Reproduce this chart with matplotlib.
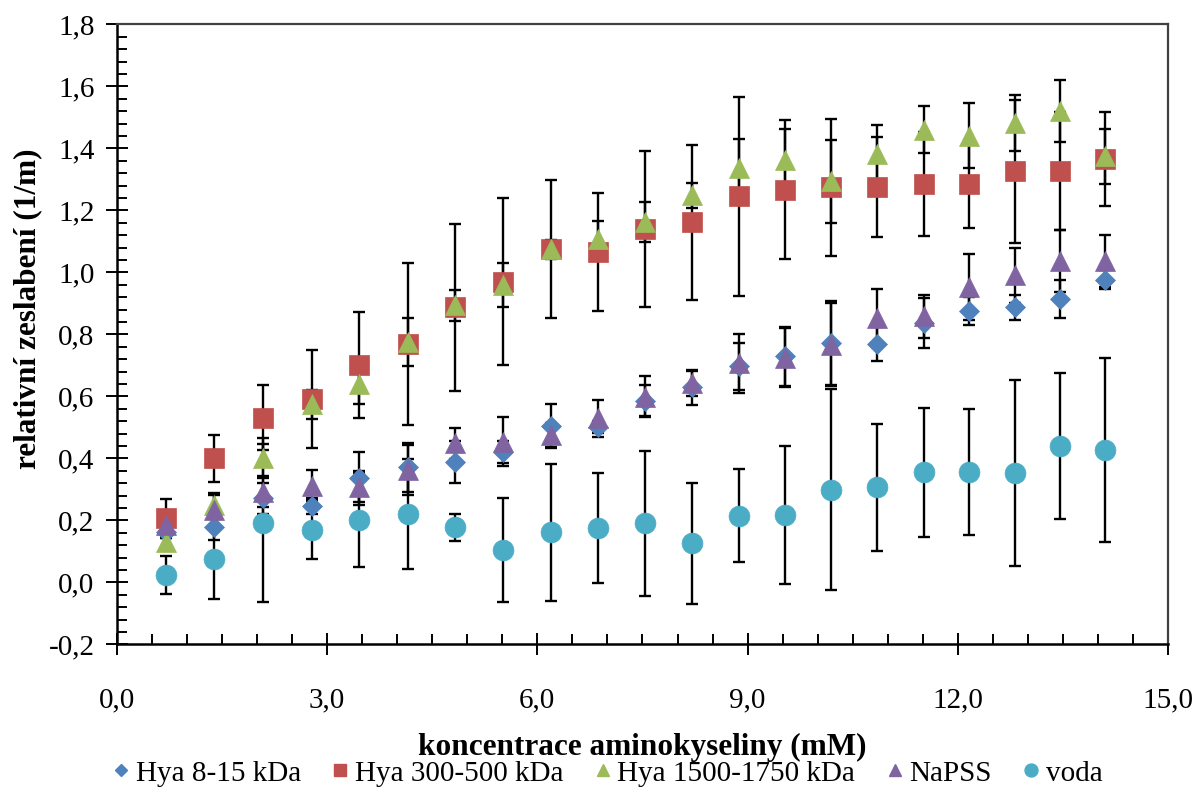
import matplotlib
matplotlib.use("Agg")
import matplotlib.pyplot as plt
from matplotlib.ticker import MultipleLocator, FuncFormatter
from matplotlib.lines import Line2D

# concentration (mM)
x = [0.70, 1.39, 2.08, 2.78, 3.46, 4.15, 4.83, 5.51, 6.19, 6.87, 7.54,
     8.20, 8.87, 9.53, 10.19, 10.85, 11.51, 12.16, 12.81, 13.46, 14.10]

hya_8_15 = [0.163, 0.177, 0.271, 0.246, 0.335, 0.371, 0.387, 0.421, 0.504, 0.502, 0.586,
            0.629, 0.697, 0.729, 0.772, 0.770, 0.836, 0.874, 0.887, 0.914, 0.976]
hya_8_15_err = [0.02, 0.04, 0.05, 0.025, 0.086, 0.08, 0.068, 0.035, 0.07, 0.02, 0.05,
                0.056, 0.076, 0.095, 0.135, 0.055, 0.08, 0.045, 0.04, 0.06, 0.03]

hya_300_500 = [0.206, 0.400, 0.531, 0.590, 0.701, 0.768, 0.887, 0.970, 1.075, 1.065, 1.140,
               1.161, 1.245, 1.267, 1.274, 1.274, 1.285, 1.285, 1.326, 1.326, 1.366]
hya_300_500_err = [0.064, 0.076, 0.104, 0.158, 0.17, 0.262, 0.27, 0.27, 0.223, 0.19, 0.253,
                   0.25, 0.32, 0.225, 0.22, 0.161, 0.167, 0.142, 0.23, 0.19, 0.152]

hya_1500_1750 = [0.131, 0.249, 0.400, 0.575, 0.640, 0.776, 0.894, 0.959, 1.074, 1.106, 1.163,
                 1.249, 1.336, 1.363, 1.293, 1.382, 1.460, 1.441, 1.482, 1.519, 1.374]
hya_1500_1750_err = [0.02, 0.04, 0.064, 0.047, 0.065, 0.077, 0.05, 0.07, 0.03, 0.06, 0.065,
                     0.04, 0.094, 0.10, 0.135, 0.094, 0.075, 0.105, 0.09, 0.10, 0.088]

napss = [0.185, 0.233, 0.292, 0.311, 0.308, 0.362, 0.448, 0.454, 0.475, 0.529, 0.599,
         0.642, 0.707, 0.724, 0.767, 0.853, 0.858, 0.952, 0.990, 1.037, 1.037]
napss_err = [0.02, 0.05, 0.05, 0.05, 0.05, 0.08, 0.05, 0.08, 0.04, 0.06, 0.065,
             0.04, 0.095, 0.095, 0.135, 0.093, 0.07, 0.107, 0.09, 0.10, 0.085]

voda = [0.024, 0.074, 0.190, 0.169, 0.201, 0.220, 0.177, 0.104, 0.161, 0.176, 0.190,
        0.126, 0.215, 0.218, 0.299, 0.307, 0.355, 0.355, 0.353, 0.439, 0.428]
voda_err = [0.062, 0.129, 0.255, 0.095, 0.153, 0.178, 0.045, 0.168, 0.22, 0.178, 0.234,
            0.195, 0.149, 0.222, 0.324, 0.205, 0.208, 0.203, 0.30, 0.235, 0.297]

labels = ["Hya 8-15 kDa", "Hya 300-500 kDa", "Hya 1500-1750 kDa", "NaPSS", "voda"]
series = [(hya_8_15, hya_8_15_err), (hya_300_500, hya_300_500_err),
          (hya_1500_1750, hya_1500_1750_err), (napss, napss_err), (voda, voda_err)]
colors = ["#4F81BD", "#C0504D", "#9BBB59", "#8064A2", "#4BACC6"]
markers = ["D", "s", "^", "^", "o"]
msizes = [10.5, 14.4, 15.0, 15.0, 15.0]

plt.rcParams['font.family'] = ['Liberation Serif', 'DejaVu Serif']

fig = plt.figure(figsize=(11.98, 7.90), dpi=100)
ax = fig.add_axes([0.0974, 0.1844, 0.9752 - 0.0974, 0.9692 - 0.1844])

for (vals, errs) in series:
    ax.errorbar(x, vals, yerr=errs, fmt='none', ecolor='black',
                elinewidth=1.7, capsize=4.5, capthick=1.7, zorder=2)

for (vals, errs), c, m, ms in zip(series, colors, markers, msizes):
    ax.plot(x, vals, linestyle='none', marker=m, ms=ms, color=c,
            mec=c, mew=0.5, zorder=3)

ax.set_xlim(0, 15)
ax.set_ylim(-0.2, 1.8)
ax.xaxis.set_major_locator(MultipleLocator(3))
ax.xaxis.set_minor_locator(MultipleLocator(0.5))
ax.yaxis.set_major_locator(MultipleLocator(0.2))
ax.yaxis.set_minor_locator(MultipleLocator(0.04))

fmt = FuncFormatter(lambda v, p: ("%.1f" % v).replace(".", ",").replace("-0,0", "0,0"))
ax.xaxis.set_major_formatter(fmt)
ax.yaxis.set_major_formatter(fmt)

ax.tick_params(which='major', direction='inout', length=16, width=1.4,
               labelsize=21, colors='black')
ax.tick_params(which='minor', direction='in', length=7, width=1.4)
ax.tick_params(axis='x', which='major', pad=23)
ax.tick_params(axis='y', which='major', pad=8)

for side in ['left', 'bottom']:
    ax.spines[side].set_linewidth(1.8)
    ax.spines[side].set_color('black')
for side in ['top', 'right']:
    ax.spines[side].set_linewidth(1.6)
    ax.spines[side].set_color('#404040')

ax.set_xlabel("koncentrace aminokyseliny (mM)", fontsize=22.5, fontweight='bold', labelpad=14)
ax.set_ylabel("relativní zeslabení (1/m)", fontsize=22.5, fontweight='bold')
ax.yaxis.set_label_coords(-0.071, 0.542)

handles = [Line2D([], [], linestyle='none', marker=m, color=c, ms=ms * 0.62, mec=c)
           for c, m, ms in zip(colors, markers, msizes)]
fig.legend(handles, labels, loc='center', bbox_to_anchor=(0.507, 0.021), ncol=5,
           frameon=False, fontsize=21, handlelength=0.6, handletextpad=0.2,
           columnspacing=1.05, borderpad=0)

fig.savefig("out.png", dpi=100)
